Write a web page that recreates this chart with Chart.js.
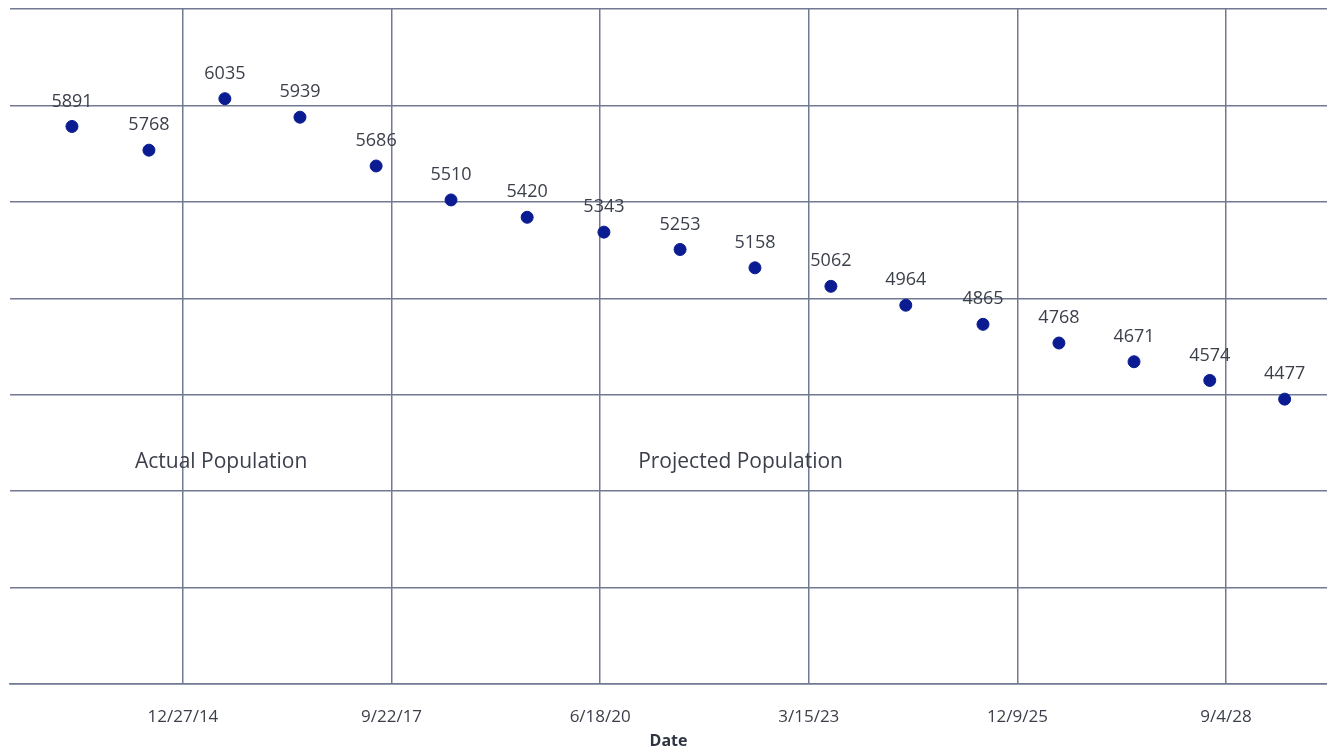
<!DOCTYPE html>
<html>
<head>
<meta charset="utf-8">
<script src="https://cdn.jsdelivr.net/npm/chart.js@4"></script>
<style>
  html, body { margin: 0; padding: 0; background: #ffffff; overflow: hidden; }
  #wrap { width: 1327px; height: 749px; }
  canvas { display: block; }
</style>
</head>
<body>
<div id="wrap"><canvas id="popChart"></canvas></div>
<script>
// --- data ---
const dates = ["2013-07-13", "2014-07-17", "2015-07-16", "2016-07-10", "2017-07-10", "2018-07-04",
  "2019-07-04", "2020-07-06", "2021-07-06", "2022-06-30", "2023-06-29", "2024-06-22",
  "2025-06-27", "2026-06-26", "2027-06-21", "2028-06-18", "2029-06-12"];
const population = [5891, 5768, 6035, 5939, 5686, 5510, 5420, 5343, 5253, 5158, 5062, 4964,
  4865, 4768, 4671, 4574, 4477];
const xTicks = [42000, 43000, 44000, 45000, 46000, 47000]; // excel serial days
const annotations = [
  { text: "Actual Population", x: 41770, y: 4150 },
  { text: "Projected Population", x: 44182, y: 4150 }
];

// excel serial <-> date helpers
const EPOCH = Date.UTC(1899, 11, 30);
const toSerial = (iso) => Math.round((Date.parse(iso) - EPOCH) / 86400000);
const serialLabel = (s) => {
  const d = new Date(EPOCH + s * 86400000);
  return (d.getUTCMonth() + 1) + "/" + d.getUTCDate() + "/" + String(d.getUTCFullYear()).slice(2);
};

const points = dates.map((d, i) => ({ x: toSerial(d), y: population[i] }));

// value labels above each point + free text boxes
const labelPlugin = {
  id: "labels",
  afterDatasetsDraw(chart) {
    const ctx = chart.ctx;
    const meta = chart.getDatasetMeta(0);
    ctx.save();
    ctx.font = "18px 'Open Sans'";
    ctx.fillStyle = "#3b3f4a";
    ctx.textAlign = "center";
    ctx.textBaseline = "middle";
    meta.data.forEach((el, i) => {
      ctx.fillText(String(population[i]), el.x, el.y - 25);
    });
    ctx.textAlign = "left";
    ctx.font = "21px 'Open Sans'";
    const xs = chart.scales.x, ys = chart.scales.y;
    annotations.forEach(a => {
      ctx.fillText(a.text, xs.getPixelForValue(a.x), ys.getPixelForValue(a.y));
    });
    ctx.restore();
  }
};

const gridColor = "#717a92";

new Chart(document.getElementById("popChart"), {
  type: "scatter",
  data: {
    datasets: [{
      label: "Population",
      data: points,
      backgroundColor: "#0b1c92",
      borderColor: "#0b1c92",
      pointRadius: 6,
      pointHoverRadius: 6
    }]
  },
  options: {
    responsive: true,
    maintainAspectRatio: false,
    animation: false,
    layout: { autoPadding: false, padding: { left: 10, right: 0, top: 9, bottom: 0 } },
    plugins: {
      legend: { display: false },
      tooltip: { enabled: false }
    },
    scales: {
      x: {
        type: "linear",
        min: 41171,
        max: 47484,
        afterBuildTicks: (axis) => { axis.ticks = xTicks.map(v => ({ value: v })); },
        afterFit: (axis) => { axis.height = 65; axis.paddingRight = 0; axis.paddingLeft = 0; },
        ticks: {
          callback: (v) => serialLabel(v),
          color: "#3b3f4a",
          font: { family: "'Open Sans'", size: 17 },
          padding: 23,
          maxRotation: 0
        },
        grid: { color: gridColor, lineWidth: 1.5, drawTicks: false },
        border: { color: gridColor, width: 1.5 },
        title: {
          display: true,
          text: "Date",
          color: "#2e3342",
          font: { family: "'Open Sans'", size: 16, weight: "bold" },
          padding: { top: 3, bottom: -2 }
        }
      },
      y: {
        min: 3000,
        max: 6500,
        ticks: { stepSize: 500, display: false },
        grid: { color: gridColor, lineWidth: 1.5, drawTicks: false },
        border: { display: false }
      }
    }
  },
  plugins: [labelPlugin]
});
</script>
</body>
</html>
